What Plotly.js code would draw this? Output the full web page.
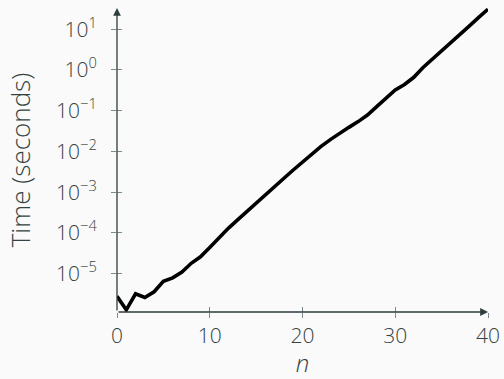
<!DOCTYPE html>
<html>
<head>
<meta charset="utf-8">
<script src="https://cdn.plot.ly/plotly-3.0.1.min.js"></script>
<style>
  html, body { margin: 0; padding: 0; background: #fafafa; }
  #chart { width: 504px; height: 379px; }
</style>
</head>
<body>
<div id="chart"></div>
<script>
// Problem size n
const nValues = [0,1,2,3,4,5,6,7,8,9,10,11,12,13,14,15,16,17,18,19,20,
                 21,22,23,24,25,26,27,28,29,30,31,32,33,34,35,36,37,38,39,40];
// Running time in seconds
const timeSeconds = [
  2.8e-6, 1.3e-6, 3.2e-6, 2.6e-6, 3.6e-6, 6.5e-6, 7.9e-6, 1.1e-5, 1.8e-5, 2.6e-5,
  4.4e-5, 7.7e-5, 1.3e-4, 2.1e-4, 3.4e-4, 5.4e-4, 8.5e-4, 1.35e-3, 2.2e-3, 3.5e-3,
  5.5e-3, 8.7e-3, 1.33e-2, 1.95e-2, 2.8e-2, 3.9e-2, 5.4e-2, 7.8e-2, 0.126, 0.209,
  0.324, 0.44, 0.66, 1.15, 1.82, 2.95, 4.7, 7.6, 12.0, 19.5, 30.9
];
const xTicks = [0, 10, 20, 30, 40];
const yTickVals = [1e-5, 1e-4, 1e-3, 1e-2, 1e-1, 1, 10];
const yTickText = ['10<sup>−5</sup>', '10<sup>−4</sup>', '10<sup>−3</sup>', '10<sup>−2</sup>',
                   '10<sup>−1</sup>', '10<sup>0</sup>', '10<sup>1</sup>'];
const xRange = [0, 40];
const yLogRange = [-5.94, 1.52];

const textColor = '#34433f';
const axisColor = '#2f3d3f';
const tickColor = '#7d8a8c';
const fontFamily = '"Open Sans", "DejaVu Sans", sans-serif';
const mkFont = (size) => ({ family: fontFamily, size: size, color: textColor, weight: 300 });

const trace = {
  x: nValues,
  y: timeSeconds,
  type: 'scatter',
  mode: 'lines',
  line: { color: '#000000', width: 3.6, shape: 'linear' },
  hoverinfo: 'skip',
  showlegend: false
};

const ghost = {
  x: [xRange[0]], y: [1e-5], xaxis: 'x2', yaxis: 'y2',
  type: 'scatter', mode: 'markers', marker: { opacity: 0 },
  hoverinfo: 'skip', showlegend: false
};

const layout = {
  width: 504,
  height: 379,
  margin: { l: 117, r: 16, t: 8, b: 67 },
  paper_bgcolor: '#fafafa',
  plot_bgcolor: '#fafafa',
  font: mkFont(20),
  showlegend: false,
  xaxis: {
    range: xRange,
    tickvals: xTicks,
    ticks: 'outside',
    ticklen: 5,
    tickwidth: 1,
    tickcolor: tickColor,
    showline: false,
    zeroline: false,
    showgrid: false,
    tickfont: mkFont(21),
    title: { text: '<i>n</i>', font: mkFont(24), standoff: 0 },
    automargin: false
  },
  yaxis: {
    type: 'log',
    range: yLogRange,
    tickvals: yTickVals,
    ticktext: yTickText,
    ticks: 'outside',
    ticklen: 5,
    tickwidth: 1,
    tickcolor: tickColor,
    ticklabelstandoff: 10,
    showline: false,
    zeroline: false,
    showgrid: false,
    tickfont: mkFont(21),
    title: { text: 'Time (seconds)', font: mkFont(26), standoff: 17 },
    automargin: false
  },
  xaxis2: {
    overlaying: 'x', matches: 'x', range: xRange, tickvals: xTicks,
    ticks: 'inside', ticklen: 5, tickwidth: 1, tickcolor: tickColor,
    showticklabels: false, showgrid: false, zeroline: false, showline: false
  },
  yaxis2: {
    overlaying: 'y', type: 'log', range: yLogRange, tickvals: yTickVals,
    ticks: 'inside', ticklen: 5, tickwidth: 1, tickcolor: tickColor,
    showticklabels: false, showgrid: false, zeroline: false, showline: false
  },
  annotations: [
    {
      xref: 'x', yref: 'y', axref: 'x', ayref: 'y',
      x: xRange[0], y: yLogRange[1], ax: xRange[0], ay: yLogRange[0],
      showarrow: true, arrowhead: 2, arrowsize: 1.2, arrowwidth: 1.3,
      arrowcolor: axisColor, standoff: 0, startstandoff: 0, text: ''
    },
    {
      xref: 'x', yref: 'y', axref: 'x', ayref: 'y',
      x: xRange[1], y: yLogRange[0], ax: xRange[0], ay: yLogRange[0],
      showarrow: true, arrowhead: 2, arrowsize: 1.2, arrowwidth: 1.3,
      arrowcolor: axisColor, standoff: 0, startstandoff: 0, text: ''
    }
  ]
};

Plotly.newPlot('chart', [trace, ghost], layout, { staticPlot: true, displayModeBar: false });
</script>
</body>
</html>
